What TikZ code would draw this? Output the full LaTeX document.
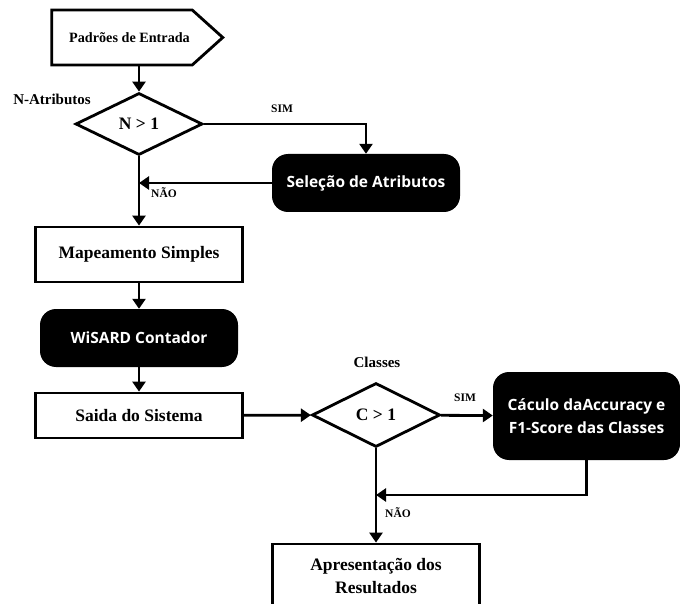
\documentclass[tikz,border=0pt]{standalone}
\usepackage{fontspec}
\setmainfont{Liberation Serif}
\newfontfamily\boxfont{Open Sans}
\usepackage{tikz}
\usetikzlibrary{shapes,arrows.meta}
\tikzstyle{block} = [draw, line width=2.8pt, fill=white, text centered, font=\bfseries\fontsize{17.5}{23}\selectfont]
\tikzstyle{blackbox} = [fill=black, text=white, rounded corners=16pt, text centered, font=\boxfont\bfseries\fontsize{15.5}{23}\selectfont]
\tikzstyle{decision} = [draw, diamond, line width=2.8pt, inner sep=0pt, font=\bfseries\fontsize{17.5}{20}\selectfont]
\tikzstyle{answer} = [inner sep=0pt, font=\bfseries\fontsize{11.5}{13}\selectfont]
\tikzstyle{sidenote} = [inner sep=0pt, font=\bfseries\fontsize{15}{17}\selectfont]
\tikzset{
  line/.style ={draw, line width=2.8pt, -{Triangle[length=10pt,width=13pt]}, shorten >=0pt}
}
\begin{document}
\begin{tikzpicture}[line join=miter,x=1pt,y=-1pt]
\useasboundingbox (0,0) rectangle (680,604);
\clip (0,0) rectangle (680,604);
\node[signal, draw, line width=2.8pt, signal to=east, signal pointer angle=84, inner xsep=0pt, minimum width=171pt, minimum height=55pt, font=\bfseries\fontsize{14.2}{17}\selectfont] (entrada) at (122,37.5) {\hspace*{15pt}Padrões de Entrada};
\node[decision, minimum width=127pt, minimum height=62pt] (natrib) at (139,124) {N > 1};
\node[sidenote] (natribtxt) at (52,99) {N-Atributos};
\node[blackbox, minimum width=188pt, minimum height=58pt] (selecao) at (366,183) {Seleção de Atributos};
\node[block, minimum width=207pt, minimum height=55pt] (mapeamento) at (139,254.5) {Mapeamento Simples};
\node[blackbox, minimum width=198pt, minimum height=58pt] (wisard) at (139,338) {WiSARD Contador};
\node[block, minimum width=207pt, minimum height=45pt] (saida) at (139,415.5) {Saida do Sistema};
\node[decision, minimum width=128pt, minimum height=64pt] (classes) at (376,415) {C > 1};
\node[sidenote] (classestxt) at (377,362) {Classes};
\node[blackbox, minimum width=187pt, minimum height=88pt, align=center] (calculo) at (586.5,416) {Cáculo daAccuracy e\\F1-Score das Classes};
\node[block, minimum width=207pt, minimum height=64pt, align=center] (resultados) at (376,576) {Apresentação dos\\Resultados};
\node[answer] (sim1) at (282,109) {SIM};
\node[answer] (nao1) at (164,193) {NÃO};
\node[answer] (sim2) at (465,398) {SIM};
\node[answer] (nao2) at (398,513) {NÃO};
\coordinate (j1) at (139,183);
\coordinate (j2) at (376,495);
\draw[line] (entrada.south -| natrib.north) -- (natrib.north);
\draw[line] (natrib.east) -| (selecao.north);
\draw[line] (selecao.west) -- (j1);
\draw[line] (natrib) -- (mapeamento);
\draw[line] (mapeamento) -- (wisard);
\draw[line] (wisard) -- (saida);
\draw[line] (saida) -- (classes);
\draw[line] (classes) -- (calculo);
\draw[line] (calculo.south) |- (j2);
\draw[line] (classes) -- (resultados);
\end{tikzpicture}
\end{document}
